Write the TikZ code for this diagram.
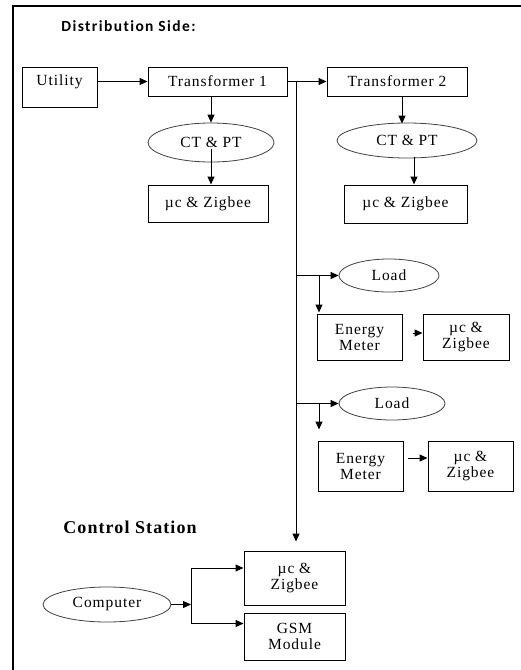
\documentclass[tikz,border=0pt]{standalone}
\usepackage{fontspec}
\newfontfamily\nodefont[LetterSpace=6,Ligatures=NoCommon]{Liberation Serif}
\newfontfamily\headsans[LetterSpace=9,Ligatures=NoCommon]{Carlito}
\newfontfamily\headserif[LetterSpace=6]{Liberation Serif}
\usetikzlibrary{arrows.meta,shapes.geometric}
\tikzset{
  box/.style={draw, line width=1pt, inner sep=0pt, align=center,
    font=\nodefont\fontsize{15.5}{16}\selectfont},
  oval/.style={ellipse, draw=black!75, line width=0.8pt, inner sep=0pt, align=center,
    font=\nodefont\fontsize{15.5}{16}\selectfont},
  arr/.style={-{Triangle[length=8pt,width=7pt]}, line width=1pt},
  ln/.style={line width=1pt},
  headA/.style={font=\headsans\bfseries\fontsize{15.5}{18}\selectfont, inner sep=0pt},
  headB/.style={font=\headserif\bfseries\fontsize{18}{21}\selectfont, inner sep=0pt}
}
\begin{document}
\begin{tikzpicture}[x=1pt,y=-1pt]
\useasboundingbox (0,0) rectangle (520,670);
% frame
\draw[line width=2pt] (13,672) -- (13,6) -- (522,6);
% headings
\node[headA] (dist) at (128.5,26) {Distribution Side:};
\node[headB] (ctrl) at (130,527) {Control Station};
% nodes
\node[box, minimum width=75pt, minimum height=40pt, text depth=13pt] (util) at (59.5,87) {Utility};
\node[box, minimum width=139pt, minimum height=29pt] (t1) at (217.5,81.5) {Transformer 1};
\node[box, minimum width=140pt, minimum height=29pt] (t2) at (397,81.5) {Transformer 2};
\node[oval, minimum width=126pt, minimum height=39pt] (ct1) at (211,142.5) {CT \& PT};
\node[oval, minimum width=140pt, minimum height=35pt] (ct2) at (407,140.5) {CT \& PT};
\node[box, minimum width=120pt, minimum height=37pt] (mz1) at (208,203.5) {µc \& Zigbee};
\node[box, minimum width=123pt, minimum height=38pt] (mz2) at (405.5,204) {µc \& Zigbee};
\node[oval, minimum width=100pt, minimum height=33pt] (load1) at (389,275.5) {Load};
\node[box, minimum width=85pt, minimum height=46pt] (em1) at (359.5,337) {Energy\\Meter};
\node[box, minimum width=86pt, minimum height=46pt] (mz3) at (466,337) {µc \&\\Zigbee};
\node[oval, minimum width=106pt, minimum height=33pt] (load2) at (392,403.5) {Load};
\node[box, minimum width=85pt, minimum height=50pt] (em2) at (360.5,466) {Energy\\Meter};
\node[box, minimum width=85pt, minimum height=50pt] (mz4) at (470.5,466) {µc \&\\Zigbee};
\node[box, minimum width=101pt, minimum height=54pt] (csmz) at (294.5,578) {µc \&\\Zigbee};
\node[box, minimum width=101pt, minimum height=47pt] (gsm) at (294.5,636.5) {GSM\\Module};
\node[oval, minimum width=128pt, minimum height=35pt] (comp) at (107,604.5) {Computer};
% coordinates
\coordinate (bt) at (296,81.5);
\coordinate (j1) at (bt |- load1.west);
\coordinate (b1) at (319,275.5);
\coordinate (j2) at (bt |- load2.west);
\coordinate (b2) at (319,403.5);
\coordinate (cj) at (191,604.5);
% connectors
\draw[arr] (util.east |- t1.west) -- (t1.west);
\draw[ln] (t1.east) -- (bt);
\draw[arr] (bt) -- (t2.west);
\draw[arr, shorten >=9pt] (bt) -- (bt |- csmz.north);
\draw[arr] (ct1.north |- t1.south) -- (ct1.north);
\draw[arr] ([yshift=-6pt]ct1.center) -- (ct1.center |- mz1.north);
\draw[arr] ([xshift=-5pt]ct2.north |- t2.south) -- ([xshift=-5pt,yshift=-1pt]ct2.north);
\draw[arr] ([xshift=7pt,yshift=1pt]ct2.south) -- ([xshift=7pt]ct2.south |- mz2.north);
\draw[arr] (j1) -- (load1.west);
\draw[arr, shorten >=1pt] (b1) -- (b1 |- em1.north);
\draw[arr] ([xshift=10pt,yshift=4pt]em1.east) -- ([yshift=4pt]mz3.west);
\draw[arr] (j2) -- (load2.west);
\draw[arr, shorten >=11pt] (b2) -- (b2 |- em2.north);
\draw[arr] ([xshift=4pt,yshift=8pt]em2.east) -- ([yshift=8pt]mz4.west);
\draw[arr] (comp.east) -- (cj);
\draw[arr] (cj) |- ([yshift=10pt]csmz.west);
\draw[arr] (cj) |- ([yshift=13pt]gsm.west);
\end{tikzpicture}
\end{document}
